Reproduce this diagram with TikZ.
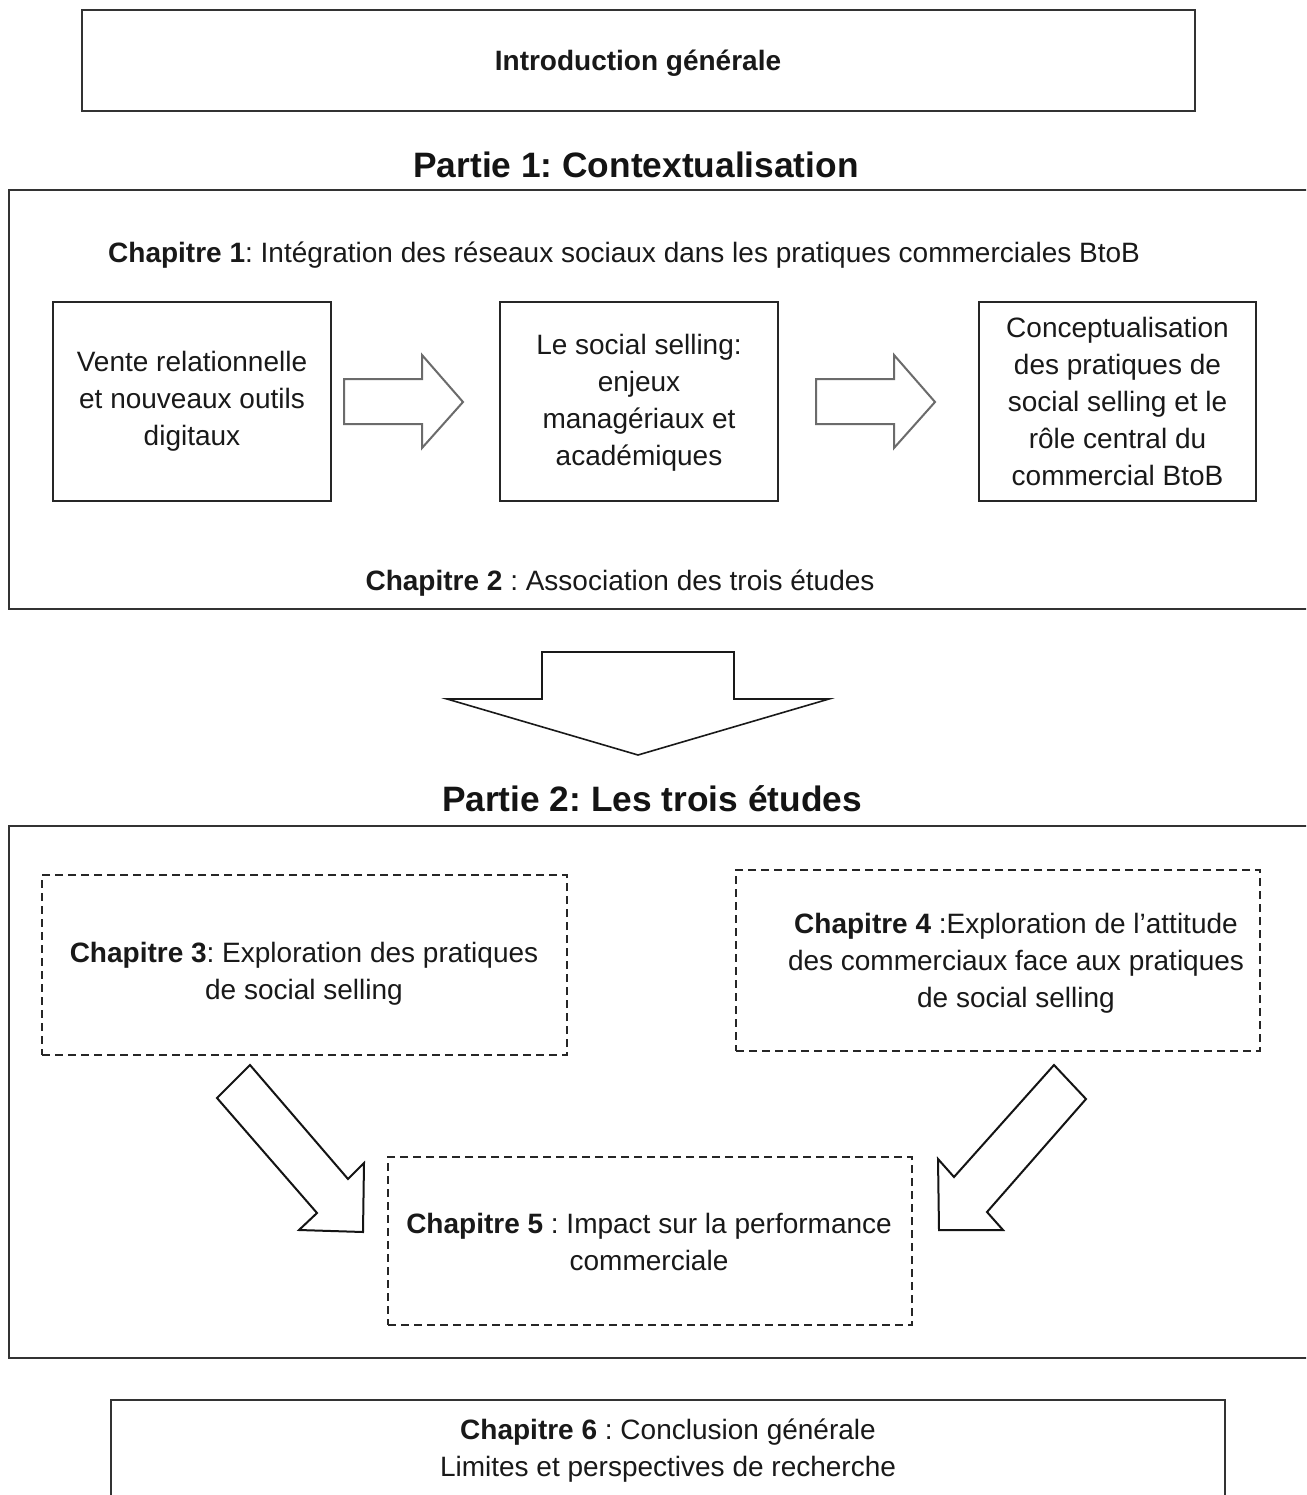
\documentclass[tikz,border=0pt]{standalone}
\usepackage{fontspec}
\setmainfont{Liberation Sans}
\frenchspacing
\begin{document}
\begin{tikzpicture}[x=1pt,y=-1pt,
  txt/.style={font=\fontsize{28}{37}\selectfont, text=black!90, align=center, inner sep=0pt},
  head/.style={font=\fontsize{35.3}{40}\selectfont\bfseries, text=black!92, inner sep=0pt},
  frame/.style={draw=black!80, line width=1.5pt, inner sep=0pt},
  solidbox/.style={draw=black!85, line width=1.5pt, txt},
  dashbox/.style={draw=black!85, line width=1.5pt, dash pattern=on 8pt off 5pt, txt},
  harrow/.style={draw=black!58, line width=2pt, line join=miter, fill=white},
  darrow/.style={draw=black!90, line width=1.6pt, line join=miter, fill=white},
  diagarrow/.style={draw=black!92, line width=2pt, line join=miter, fill=white},
]
\useasboundingbox (0,0) rectangle (1306,1495);
\fill[white] (0,0) rectangle (1306,1495);
\clip (0,0) rectangle (1306,1495);

% Introduction
\node[frame, minimum width=1113pt, minimum height=101pt] (intro) at (638.5,60.5) {};
\node[txt, anchor=base] (introtxt) at (638,71) {\textbf{Introduction générale}};

% Partie 1
\node[head, anchor=base] (p1title) at (636,178) {Partie 1: Contextualisation};
\node[frame, minimum width=1321pt, minimum height=419pt] (p1) at (669.5,399.5) {};
\node[txt, anchor=base west] (ch1) at (108,263) {\textbf{Chapitre 1}: Intégration des réseaux sociaux dans les pratiques commerciales BtoB};

\node[solidbox, minimum width=278pt, minimum height=199pt] (a) at (192,401.5)
  {Vente relationnelle\\et nouveaux outils\\digitaux};
\node[solidbox, minimum width=278pt, minimum height=199pt] (b) at (639,401.5) {};
\node[txt] (btxt) at (639,402.5)
  {Le social selling:\\enjeux\\managériaux et\\académiques};
\node[solidbox, minimum width=277pt, minimum height=199pt] (c) at (1117.5,401.5)
  {Conceptualisation\\des pratiques de\\social selling et le\\rôle central du\\commercial BtoB};

\draw[harrow] (344,379) -- (422,379) -- (422,355) -- (463,402) -- (422,448) -- (422,424) -- (344,424) -- cycle;
\draw[harrow] (816,379) -- (894,379) -- (894,355) -- (935,402) -- (894,448) -- (894,424) -- (816,424) -- cycle;

\node[txt, anchor=base] (ch2) at (620,590) {\textbf{Chapitre 2} : Association des trois études};

% Down arrow
\draw[darrow] (542,652) -- (734,652) -- (734,699) -- (829,699) -- (638,755) -- (447,699) -- (542,699) -- cycle;

% Partie 2
\node[head, anchor=base] (p2title) at (652,811) {Partie 2: Les trois études};
\node[frame, minimum width=1321pt, minimum height=532pt] (p2) at (669.5,1092) {};

\node[dashbox, minimum width=525pt, minimum height=180pt] (c3) at (304.5,965) {};
\node[txt] (c3txt) at (304,974) {\textbf{Chapitre 3}: Exploration des pratiques\\de social selling};
\node[dashbox, minimum width=524pt, minimum height=181pt] (c4) at (998,960.5) {};
\node[txt] (c4txt) at (1016,963)
  {\textbf{Chapitre 4} :Exploration de l’attitude\\des commerciaux face aux pratiques\\de social selling};
\node[dashbox, minimum width=524pt, minimum height=168pt] (c5) at (650,1241) {};
\node[txt] (c5txt) at (649,1242)
  {\textbf{Chapitre 5} : Impact sur la performance\\commerciale};

\draw[diagarrow] (250,1065) -- (348,1179) -- (364,1163) -- (363,1232) -- (299,1230) -- (317,1213) -- (217,1098) -- cycle;
\draw[diagarrow] (1054,1065) -- (1086,1099) -- (987,1212) -- (1003,1230) -- (939,1230) -- (938,1159) -- (954,1177) -- cycle;

% Chapitre 6
\node[frame, minimum width=1114pt, minimum height=160pt] (c6) at (668,1480) {};
\node[txt] (c6txt) at (668,1451) {\textbf{Chapitre 6} : Conclusion générale\\Limites et perspectives de recherche};
\end{tikzpicture}
\end{document}
